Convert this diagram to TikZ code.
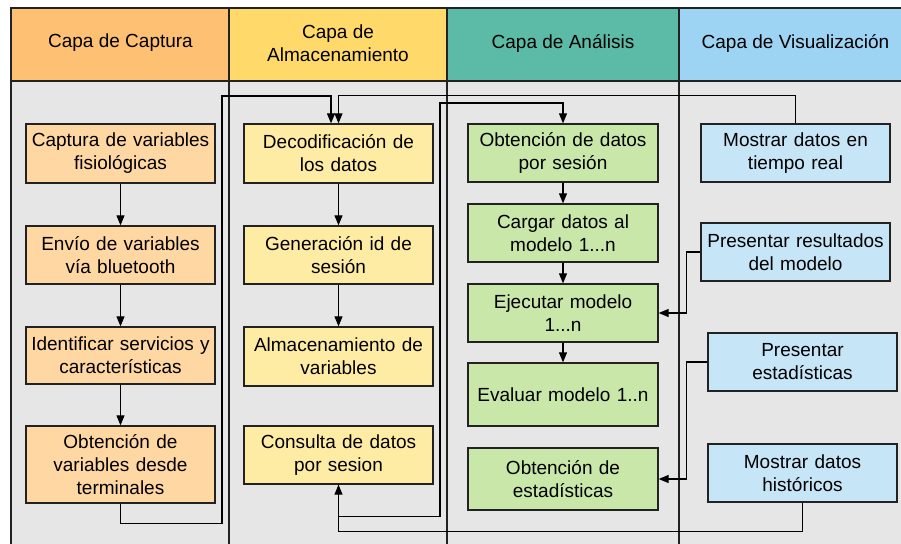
\documentclass[tikz,border=0pt]{standalone}
\usepackage{fontspec}
\setmainfont{Liberation Sans}
\usetikzlibrary{arrows.meta}
\definecolor{hdrA}{HTML}{FEC173}
\definecolor{hdrB}{HTML}{FFDA6A}
\definecolor{hdrC}{HTML}{5CBBA7}
\definecolor{hdrD}{HTML}{9DD3F3}
\definecolor{boxA}{HTML}{FFD7A2}
\definecolor{boxB}{HTML}{FFECA4}
\definecolor{boxC}{HTML}{C9E7A9}
\definecolor{boxD}{HTML}{C6E5F7}
\definecolor{bodyg}{HTML}{E6E6E6}
\definecolor{linec}{HTML}{222222}
\tikzset{
  frameline/.style={draw=linec, line width=1.3pt},
  hdrtext/.style={align=center, font=\fontsize{19}{23}\selectfont, inner sep=0pt},
  procbox/.style={draw=linec, line width=1.3pt, text width=184pt, align=center,
    inner xsep=2pt, inner ysep=0pt, minimum width=189pt,
    font=\fontsize{19}{23}\selectfont},
  arr/.style={draw=black, line width=1.1pt, -{Triangle[length=10pt,width=8pt]}}
}
\begin{document}
\begin{tikzpicture}[x=1pt,y=-1pt]
\useasboundingbox (0,0) rectangle (901,543);
\clip (0,0) rectangle (901,543);
% headers and body
\fill[hdrA] (11,8) rectangle (229,81);
\fill[hdrB] (229,8) rectangle (447,81);
\fill[hdrC] (447,8) rectangle (679,81);
\fill[hdrD] (679,8) rectangle (910,81);
\fill[bodyg] (11,81) rectangle (910,560);
\draw[frameline] (11,8) rectangle (910,560);
\draw[frameline] (11,81) -- (910,81);
\foreach \xx in {229,447,679} \draw[frameline] (\xx,8) -- (\xx,560);
\node[hdrtext] (h1) at (120.5,43) {Capa de Captura};
\node[hdrtext] (h2) at (338,43) {Capa de\\Almacenamiento};
\node[hdrtext] (h3) at (563,43) {Capa de Análisis};
\node[hdrtext] (h4) at (795.5,43) {Capa de Visualización};
% column 1
\node[procbox, fill=boxA, minimum height=59pt] (c1a) at (120.5,153.5) {Captura de variables\\fisiológicas};
\node[procbox, fill=boxA, minimum height=58pt] (c1b) at (120.5,255) {Envío de variables\\vía bluetooth};
\node[procbox, fill=boxA, minimum height=57pt] (c1c) at (120.5,355.5) {Identificar servicios y\\características};
\node[procbox, fill=boxA, minimum height=77pt] (c1d) at (120.5,464.5) {Obtención de\\variables desde\\terminales};
% column 2
\node[procbox, fill=boxB, minimum height=59pt] (c2a) at (338.5,153.5) {Decodificación de\\los datos};
\node[procbox, fill=boxB, minimum height=58pt] (c2b) at (338.5,255) {Generación id de\\sesión};
\node[procbox, fill=boxB, minimum height=59pt] (c2c) at (338.5,356.5) {Almacenamiento de\\variables};
\node[procbox, fill=boxB, minimum height=58pt] (c2d) at (338.5,455) {Consulta de datos\\por sesion};
% column 3
\node[procbox, fill=boxC, minimum height=58pt, minimum width=190pt] (c3a) at (563,153) {Obtención de datos\\por sesión};
\node[procbox, fill=boxC, minimum height=58pt, minimum width=190pt] (c3b) at (563,233) {Cargar datos al\\modelo 1...n};
\node[procbox, fill=boxC, minimum height=58pt, minimum width=190pt] (c3c) at (563,313) {Ejecutar modelo\\1...n};
\node[procbox, fill=boxC, minimum height=63pt, minimum width=190pt] (c3d) at (563,394.5) {Evaluar modelo 1..n};
\node[procbox, fill=boxC, minimum height=62pt, minimum width=190pt] (c3e) at (563,479) {Obtención de\\estadísticas};
% column 4
\node[procbox, fill=boxD, minimum height=58pt] (c4a) at (795.5,153) {Mostrar datos en\\tiempo real};
\node[procbox, fill=boxD, minimum height=58pt] (c4b) at (795.5,252) {Presentar resultados\\del modelo};
\node[procbox, fill=boxD, minimum height=58pt] (c4c) at (802.5,362) {Presentar\\estadísticas};
\node[procbox, fill=boxD, minimum height=58pt] (c4d) at (802.5,473) {Mostrar datos\\históricos};
% arrows inside columns
\draw[arr] (c1a) -- (c1b);
\draw[arr] (c1b) -- (c1c);
\draw[arr] (c1c) -- (c1d);
\draw[arr] (c2a) -- (c2b);
\draw[arr] (c2b) -- (c2c);
\draw[arr] (c3a) -- (c3b);
\draw[arr] (c3b) -- (c3c);
\draw[arr] (c3c) -- (c3d);
% long connectors
\draw[arr] (c1d.south) -- ++(0,20) -| (222,96) -| ([xshift=-7.5pt]c2a.north);
\draw[arr] (c4a.north) -- ++(0,-28) -| (c2a.north);
\draw[arr] (c2d.south) -- ++(0,32) -| (440,103) -| (c3a.north);
\draw[arr] (c4d.south) -- ++(0,29) -| (c2d.south);
\draw[arr] (c4b.west) -- ++(-14,0) |- (c3c.east);
\draw[arr] (c4c.west) -- ++(-21,0) |- (c3e.east);
\end{tikzpicture}
\end{document}
